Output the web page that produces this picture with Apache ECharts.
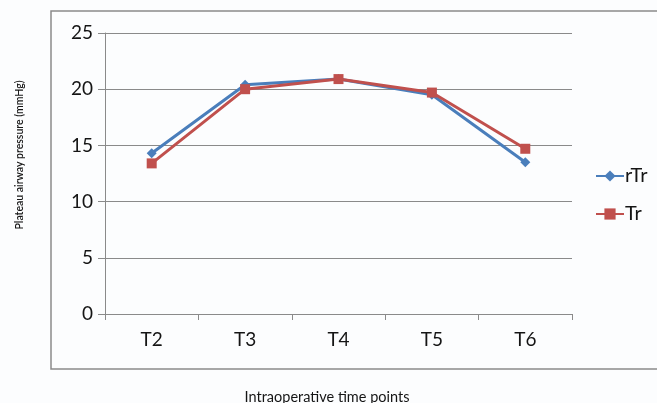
<!DOCTYPE html>
<html><head><meta charset="utf-8">
<script src="https://cdn.jsdelivr.net/npm/echarts@6/dist/echarts.min.js"></script>
<style>html,body{margin:0;padding:0;background:#fcfdfe}#c{width:657px;height:403px}</style>
</head><body><div id="c"></div>
<script>
const categories = ['T2','T3','T4','T5','T6'];
const rTr = [14.3, 20.4, 20.9, 19.5, 13.5];
const Tr = [13.4, 20.0, 20.9, 19.7, 14.7];
const yTicks = [0, 5, 10, 15, 20, 25];
const F = 'Lato, "Open Sans", sans-serif';
const chart = echarts.init(document.getElementById('c'));
chart.setOption({
  backgroundColor: '#fcfdfe',
  animation: false,
  grid: {left: 105, right: 85, top: 33, bottom: 89},
  graphic: [
    {type: 'rect', shape: {x: 51, y: 11, width: 620, height: 358}, style: {fill: 'none', stroke: '#8a8a8a', lineWidth: 1.5}, silent: true},
    {type: 'text', x: 20, y: 155, rotation: Math.PI/2, style: {text: 'Plateau airway pressure (mmHg)', font: '600 10.5px ' + F, fill: '#151515', align: 'center', verticalAlign: 'middle'}},
    {type: 'text', x: 327, y: 397, style: {text: 'Intraoperative time points', font: '14.5px ' + F, fill: '#151515', align: 'center', verticalAlign: 'middle'}}
  ],
  legend: {
    orient: 'vertical', left: 590, top: 161, itemGap: 18, itemWidth: 28, itemHeight: 14,
    textStyle: {fontFamily: F, fontSize: 20, color: '#151515', padding: [0,0,0,-4]},
    data: ['rTr', 'Tr']
  },
  xAxis: {
    type: 'category', data: categories, boundaryGap: true,
    axisLine: {lineStyle: {color: '#8a8a8a', width: 1}},
    axisTick: {show: true, length: 6, lineStyle: {color: '#8a8a8a'}},
    axisLabel: {fontFamily: F, fontSize: 19, color: '#151515', margin: 16}
  },
  yAxis: {
    type: 'value', min: 0, max: 25, interval: 5,
    axisLine: {show: true, lineStyle: {color: '#8a8a8a', width: 1}},
    axisTick: {show: true, length: 7, lineStyle: {color: '#8a8a8a'}},
    splitLine: {lineStyle: {color: '#8a8a8a', width: 1}},
    axisLabel: {fontFamily: F, fontSize: 19, color: '#151515', margin: 12,
      formatter: v => yTicks.includes(v) ? String(v) : ''}
  },
  series: [
    {name: 'rTr', type: 'line', data: rTr, symbol: 'diamond', symbolSize: 10,
     lineStyle: {color: '#4a7ebb', width: 3}, itemStyle: {color: '#4a7ebb'}},
    {name: 'Tr', type: 'line', data: Tr, symbol: 'rect', symbolSize: 10,
     lineStyle: {color: '#c0504d', width: 3}, itemStyle: {color: '#c0504d'}}
  ]
});
</script></body></html>
